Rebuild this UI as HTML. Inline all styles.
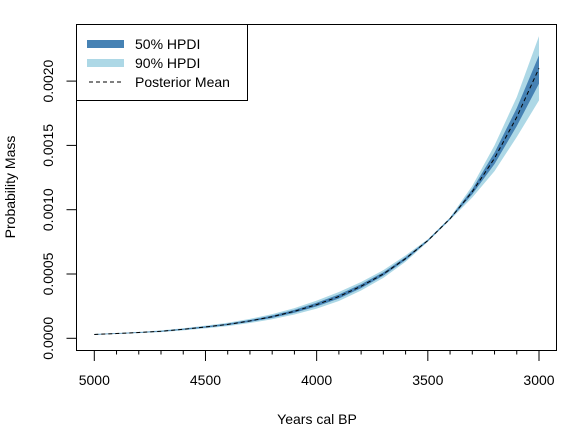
<!DOCTYPE html>
<html><head><meta charset="utf-8"><style>
body{margin:0;background:#fff}
svg text{font-family:"Liberation Sans",sans-serif;fill:#000}
</style></head><body>
<svg id="chart" width="584" height="435" xmlns="http://www.w3.org/2000/svg">
<g id="bands"></g>
<g id="axes"></g>
<rect x="76.5" y="24.5" width="480" height="326" fill="none" stroke="#000" stroke-width="1"/>
<g>
<rect x="76.5" y="24.5" width="171" height="76" fill="#fff" stroke="#000"/>
<rect x="87" y="40" width="37" height="8" fill="#4682b4"/>
<text x="135" y="49" font-size="14">50% HPDI</text>
<rect x="87" y="59" width="37" height="8" fill="#add8e6"/>
<text x="135" y="68" font-size="14">90% HPDI</text>
<line x1="89" y1="82" x2="122" y2="82" stroke="#000" stroke-dasharray="4,3"/>
<text x="135" y="87" font-size="14">Posterior Mean</text>
</g>
<text x="317" y="424" font-size="14" text-anchor="middle">Years cal BP</text>
<text transform="translate(15,187) rotate(-90)" font-size="14" text-anchor="middle">Probability Mass</text>
</svg>
<script>
const years=[5000,4900,4800,4700,4600,4500,4400,4300,4200,4100,4000,3900,3800,3700,3600,3500,3400,3300,3200,3100,3000];
const meanVals=[0.000030,0.000037,0.000045,0.000055,0.000070,0.000088,0.000108,0.000135,0.000168,0.000210,0.000262,0.000325,0.000405,0.000500,0.000620,0.000760,0.000930,0.001140,0.001400,0.001720,0.002100];
const lo90=[0.000026,0.000033,0.000040,0.000048,0.000062,0.000077,0.000095,0.000119,0.000148,0.000185,0.000231,0.000290,0.000372,0.000470,0.000595,0.000750,0.000920,0.001095,0.001300,0.001565,0.001850];
const hi90=[0.000034,0.000041,0.000050,0.000062,0.000078,0.000099,0.000121,0.000151,0.000188,0.000235,0.000293,0.000360,0.000438,0.000530,0.000645,0.000770,0.000940,0.001185,0.001500,0.001875,0.002350];
const lo50=[0.000028,0.000035,0.000043,0.000052,0.000066,0.000083,0.000102,0.000128,0.000159,0.000199,0.000248,0.000309,0.000390,0.000487,0.000609,0.000755,0.000925,0.001120,0.001355,0.001650,0.001980];
const hi50=[0.000032,0.000039,0.000047,0.000058,0.000074,0.000093,0.000114,0.000142,0.000177,0.000221,0.000276,0.000341,0.000420,0.000513,0.000631,0.000765,0.000935,0.001160,0.001445,0.001790,0.002200];
const xTicks=[5000,4500,4000,3500,3000];
const xTickLabels=["5000","4500","4000","3500","3000"];
const yTicks=[0,0.0005,0.0010,0.0015,0.0020];
const yTickLabels=["0.0000","0.0005","0.0010","0.0015","0.0020"];

const NS="http://www.w3.org/2000/svg";
function xs(v){return 94.3+(5000-v)/2000*(539-94.3);}
function ys(v){return 338.3-v/0.0005*64.3;}
function mk(tag,attrs,parent){const e=document.createElementNS(NS,tag);for(const k in attrs)e.setAttribute(k,attrs[k]);parent.appendChild(e);return e;}
const bands=document.getElementById('bands');
function bandPath(lo,hi){let d='';years.forEach((y,i)=>{d+=(i?'L':'M')+xs(y).toFixed(2)+','+ys(hi[i]).toFixed(2);});for(let i=years.length-1;i>=0;i--)d+='L'+xs(years[i]).toFixed(2)+','+ys(lo[i]).toFixed(2);return d+'Z';}
const b90=mk('path',{d:bandPath(lo90,hi90),fill:'#add8e6'},bands);


const b50=mk('path',{d:bandPath(lo50,hi50),fill:'#4682b4'},bands);


let md='';years.forEach((y,i)=>{md+=(i?'L':'M')+xs(y).toFixed(2)+','+ys(meanVals[i]).toFixed(2);});
const ml=mk('path',{d:md,fill:'none',stroke:'#000','stroke-width':1,'stroke-dasharray':'4,3'},bands);


const axes=document.getElementById('axes');
for(let y=5000;y>=3000;y-=100){
  const major=xTicks.indexOf(y)>=0;
  const t=mk('line',{x1:xs(y),x2:xs(y),y1:350.5,y2:major?361:354.5,stroke:'#000'},axes);
  
  
}
xTicks.forEach((v,i)=>{
  const t=mk('text',{x:xs(v),y:385,'font-size':14,'text-anchor':'middle'},axes);
  t.textContent=xTickLabels[i];
  
  
});
yTicks.forEach((v,i)=>{
  const l=mk('line',{x1:66.5,x2:76.5,y1:ys(v),y2:ys(v),stroke:'#000'},axes);
  
  
  const t=mk('text',{transform:'translate(53,'+ys(v)+') rotate(-90)','font-size':14,'text-anchor':'middle'},axes);
  t.textContent=yTickLabels[i];
  
  
});
</script>
</body></html>
